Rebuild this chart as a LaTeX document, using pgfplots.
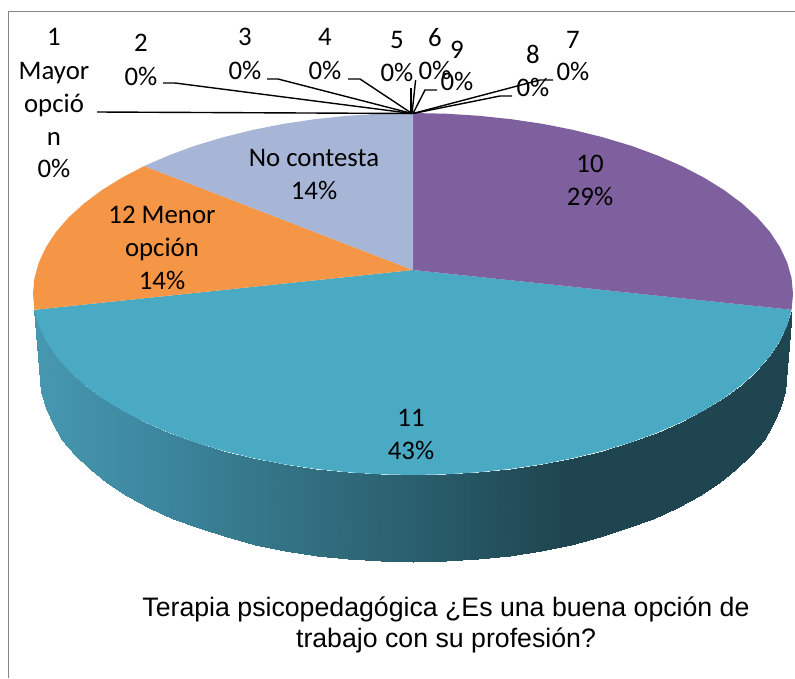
\documentclass[border=0pt]{standalone}
\usepackage{pgfplots}
\pgfplotsset{compat=1.18}
\usepackage{fontspec}
\setmainfont{Carlito}
\newfontfamily\arialf{Liberation Sans}
\definecolor{cpurple}{RGB}{127,96,158}
\definecolor{cblue}{RGB}{74,170,196}
\definecolor{corange}{RGB}{245,150,70}
\definecolor{clav}{RGB}{167,182,214}
\definecolor{cframe}{RGB}{134,134,134}
\tikzset{lab/.style={anchor=base, inner sep=0pt, font=\fontsize{26.8}{32}\selectfont}}
\begin{document}
\begin{tikzpicture}
\useasboundingbox (0,0) rectangle (795pt,678pt);
\begin{axis}[
  at={(0,0)}, anchor=south west,
  scale only axis, width=795pt, height=678pt,
  xmin=0, xmax=795, ymin=0, ymax=678, y dir=reverse,
  hide axis, clip=false,
  colormap={sidec}{rgb255(0pt)=(70,152,176); rgb255(115pt)=(61,136,160); rgb255(265pt)=(50,112,130); rgb255(378pt)=(42,95,110); rgb255(525pt)=(31,70,80); rgb255(758pt)=(31,70,80)},
  point meta min=35, point meta max=793,
]
% frame
\addplot[cframe, line width=1.8pt, forget plot] coordinates {(8.5,678)(8.5,11.5)(795,11.5)};
% side of the pie
\addplot[surf, shader=interp, mesh/rows=2, point meta=x, forget plot] table[x=x,y=y] {
x y
34.4 309.8
34.4 309.8
38.8 325.4
46 340.8
55.9 355.9
68.6 370.5
83.9 384.5
101.7 397.8
121.9 410.3
144.3 422
168.7 432.6
195 442.3
223 450.7
252.4 458
283 464.1
314.7 468.8
347 472.2
379.9 474.3
413 475
446.1 474.3
479 472.2
511.3 468.8
543 464.1
573.6 458
603 450.7
631 442.3
657.3 432.6
681.7 422
704.1 410.3
724.3 397.8
742.1 384.5
757.4 370.5
770.1 355.9
780 340.8
787.2 325.4
791.6 309.8
791.6 309.8
40 376
41.4 392.2
45.7 408.3
52.7 424.1
62.5 439.6
75 454.6
90 469
107.4 482.7
127.3 495.6
149.2 507.5
173.2 518.5
199.1 528.4
226.5 537.1
255.4 544.6
285.4 550.8
316.5 555.7
348.2 559.2
380.5 561.3
413 562
445.5 561.3
477.8 559.2
509.5 555.7
540.6 550.8
570.6 544.6
599.5 537.1
626.9 528.4
652.8 518.5
676.8 507.5
698.7 495.6
718.6 482.7
736 469
751 454.6
763.5 439.6
773.3 424.1
780.3 408.3
784.6 392.2
786 376
};
% 11: 43%
\addplot[fill=cblue, draw=none, forget plot] coordinates {(413,270)(791.6,309.8)(787.2,325.4)(780,340.8)(770.1,355.9)(757.4,370.5)(742.1,384.5)(724.3,397.8)(704.1,410.3)(681.7,422)(657.3,432.6)(631,442.3)(603,450.7)(573.6,458)(543,464.1)(511.3,468.8)(479,472.2)(446.1,474.3)(413,475)(379.9,474.3)(347,472.2)(314.7,468.8)(283,464.1)(252.4,458)(223,450.7)(195,442.3)(168.7,432.6)(144.3,422)(121.9,410.3)(101.7,397.8)(83.9,384.5)(68.6,370.5)(55.9,355.9)(46,340.8)(38.8,325.4)(34.4,309.8)} --cycle;
% 10: 29%
\addplot[fill=cpurple, draw=none, forget plot] coordinates {(413,270)(413,113)(446.1,113.7)(479,115.8)(511.3,119.2)(543,123.9)(573.6,130)(603,137.3)(631,145.7)(657.3,155.4)(681.7,166)(704.1,177.7)(724.3,190.2)(742.1,203.5)(757.4,217.5)(770.1,232.1)(780,247.2)(787.2,262.6)(791.6,278.2)(793,294)(791.6,309.8)} --cycle;
% 12 Menor opcion: 14%
\addplot[fill=corange, draw=none, forget plot] coordinates {(413,270)(34.4,309.8)(33,294)(34.4,278.2)(38.8,262.6)(46,247.2)(55.9,232.1)(68.6,217.5)(83.9,203.5)(101.7,190.2)(121.9,177.7)(144.3,166)} --cycle;
% No contesta: 14%
\addplot[fill=clav, draw=none, forget plot] coordinates {(413,270)(144.3,166)(168.7,155.4)(195,145.7)(223,137.3)(252.4,130)(283,123.9)(314.7,119.2)(347,115.8)(379.9,113.7)(413,113)} --cycle;
% leader lines
\addplot[black, line width=1.4pt, forget plot] coordinates {(97,112)(412,113.5)};
\addplot[black, line width=1.4pt, forget plot] coordinates {(163,83)(175,83)(412,113.5)};
\addplot[black, line width=1.4pt, forget plot] coordinates {(267,79)(278,79)(412,113.5)};
\addplot[black, line width=1.4pt, forget plot] coordinates {(348,79)(360,79)(412,113.5)};
\addplot[black, line width=1.4pt, forget plot] coordinates {(411,88)(411,113.5)};
\addplot[black, line width=1.4pt, forget plot] coordinates {(415.6,80)(412,113.5)};
\addplot[black, line width=1.4pt, forget plot] coordinates {(437,90)(425,90)(413,113.5)};
\addplot[black, line width=1.4pt, forget plot] coordinates {(553,80)(540,80)(413,113.5)};
\addplot[black, line width=1.4pt, forget plot] coordinates {(512,96)(500,96)(413,113.5)};
% labels
\node[lab] at (axis cs:54,45) {1};
\node[lab] at (axis cs:54,79) {Mayor};
\node[lab] at (axis cs:54,112) {opció};
\node[lab] at (axis cs:54,145) {n};
\node[lab] at (axis cs:54,177) {0\%};
\node[lab] at (axis cs:141,51) {2};
\node[lab] at (axis cs:141,85) {0\%};
\node[lab] at (axis cs:245,45) {3};
\node[lab] at (axis cs:245,79) {0\%};
\node[lab] at (axis cs:325,45) {4};
\node[lab] at (axis cs:325,79) {0\%};
\node[lab] at (axis cs:397,48) {5};
\node[lab] at (axis cs:397,81) {0\%};
\node[lab] at (axis cs:435,46) {6};
\node[lab] at (axis cs:435,79) {0\%};
\node[lab] at (axis cs:457,58) {9};
\node[lab] at (axis cs:457,90) {0\%};
\node[lab] at (axis cs:573,48) {7};
\node[lab] at (axis cs:573,80) {0\%};
\node[lab] at (axis cs:533,63) {8};
\node[lab] at (axis cs:533,96) {0\%};
\node[lab] at (axis cs:590,172) {10};
\node[lab] at (axis cs:590,205) {29\%};
\node[lab] at (axis cs:411,426) {11};
\node[lab] at (axis cs:411,459) {43\%};
\node[lab] at (axis cs:162,223) {12 Menor};
\node[lab] at (axis cs:162,256) {opción};
\node[lab] at (axis cs:162,289) {14\%};
\node[lab] at (axis cs:314,166) {No contesta};
\node[lab] at (axis cs:314,199) {14\%};
% title
\node[anchor=base, inner sep=0pt, font=\arialf\fontsize{26.7}{30}\selectfont] at (axis cs:446,616) {Terapia psicopedagógica ¿Es una buena opción de};
\node[anchor=base, inner sep=0pt, font=\arialf\fontsize{26.7}{30}\selectfont] at (axis cs:446,647) {trabajo con su profesión?};
\end{axis}
\end{tikzpicture}
\end{document}
